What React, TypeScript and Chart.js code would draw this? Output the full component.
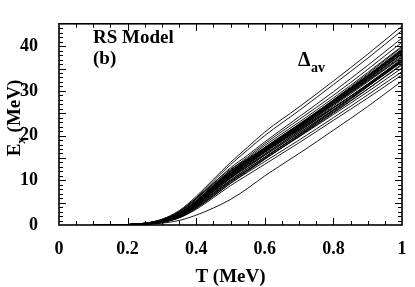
import React, { useEffect, useRef } from "react";
import { Chart, registerables } from "chart.js";

Chart.register(...registerables);

// Temperature grid (MeV)
const temps = [0.1, 0.15, 0.2, 0.25, 0.3, 0.35, 0.4, 0.45, 0.5, 0.55, 0.6, 0.7, 0.8, 0.9, 1.0];

// Excitation energy curves E_x (MeV), one per nucleus / sample
const curve01 = [0, 0, 0.1, 0.4, 1.3, 3.2, 6.4, 10.2, 14.0, 17.4, 20.8, 26.4, 32.2, 38.2, 44.5];
const curve02 = [0, 0, 0.1, 0.4, 1.2, 3.0, 6.1, 9.8, 13.5, 16.8, 20.0, 25.6, 31.4, 37.3, 43.5];
const curve03 = [0, 0, 0.1, 0.4, 1.1, 2.8, 5.8, 9.3, 12.8, 15.6, 18.6, 24.2, 29.8, 35.7, 41.8];
const curve04 = [0, 0, 0.1, 0.3, 1.0, 2.6, 5.5, 8.9, 12.3, 15.2, 18.2, 23.6, 29.0, 34.8, 40.9];
const curve05 = [0, 0, 0.1, 0.3, 1.0, 2.5, 5.3, 8.7, 12.0, 14.9, 17.8, 23.0, 28.4, 34.1, 40.0];
const curve06 = [0, 0, 0.1, 0.3, 0.9, 2.4, 5.1, 8.4, 11.7, 14.5, 17.3, 22.5, 27.9, 33.5, 39.4];
const curve07 = [0, 0, 0.1, 0.3, 0.9, 2.4, 5.0, 8.3, 11.5, 14.2, 16.9, 22.1, 27.5, 33.0, 38.8];
const curve08 = [0, 0, 0.1, 0.3, 0.9, 2.3, 4.9, 8.1, 11.2, 13.9, 16.6, 21.8, 27.1, 32.6, 38.3];
const curve09 = [0, 0, 0.1, 0.3, 0.8, 2.2, 4.8, 8.0, 11.0, 13.6, 16.2, 21.3, 26.6, 32.0, 37.5];
const curve10 = [0, 0, 0.1, 0.3, 0.8, 2.1, 4.6, 7.7, 10.7, 13.3, 15.9, 21.0, 26.2, 31.5, 37.0];
const curve11 = [0, 0, 0.1, 0.3, 0.8, 2.1, 4.5, 7.5, 10.5, 13.1, 15.6, 20.6, 25.7, 31.0, 36.4];
const curve12 = [0, 0, 0.1, 0.2, 0.7, 2.0, 4.3, 7.2, 10.1, 12.7, 15.2, 20.1, 25.2, 30.4, 35.8];
const curve13 = [0, 0, 0.0, 0.2, 0.7, 1.9, 4.1, 7.0, 9.8, 12.3, 14.8, 19.7, 24.7, 29.8, 35.1];
const curve14 = [0, 0, 0.0, 0.2, 0.6, 1.7, 3.8, 6.5, 9.3, 11.8, 14.2, 19.0, 24.0, 29.1, 34.3];
const curve15 = [0, 0, 0.0, 0.2, 0.6, 1.6, 3.5, 6.1, 8.8, 11.2, 13.6, 18.4, 23.4, 28.4, 33.6];
const curve16 = [0, 0, 0.0, 0.1, 0.4, 1.0, 2.2, 3.8, 5.7, 8.2, 11.0, 16.0, 21.2, 26.5, 32.2];
const curve17 = [0, 0, 0.1, 0.4, 1.2, 3.0, 6.0, 9.4, 12.5, 14.8, 17.2, 22.0, 27.0, 32.2, 37.6];
const curve18 = [0, 0, 0.1, 0.4, 1.1, 2.9, 5.8, 9.1, 12.1, 14.4, 16.7, 21.4, 26.3, 31.4, 36.7];
const curve19 = [0, 0, 0.1, 0.3, 1.0, 2.6, 5.4, 8.6, 11.6, 14.0, 16.4, 21.2, 26.2, 31.4, 36.9];
const curve20 = [0, 0, 0.1, 0.3, 0.9, 2.3, 4.8, 7.9, 11.1, 13.9, 16.8, 22.3, 28.0, 33.8, 39.8];
const curve21 = [0, 0, 0.1, 0.3, 0.9, 2.4, 5.1, 8.4, 11.6, 14.3, 17.0, 22.2, 27.6, 33.2, 39.0];
const curve22 = [0, 0, 0.1, 0.3, 0.9, 2.3, 5.0, 8.2, 11.3, 13.9, 16.5, 21.6, 26.9, 32.3, 37.9];
const curve23 = [0, 0, 0.1, 0.3, 0.8, 2.2, 4.7, 7.8, 10.9, 13.6, 16.3, 21.5, 26.9, 32.5, 38.2];
const curve24 = [0, 0, 0.1, 0.3, 0.8, 2.1, 4.5, 7.6, 10.7, 13.5, 16.3, 21.7, 27.3, 33.0, 38.9];
const curve25 = [0, 0, 0.1, 0.2, 0.7, 2.0, 4.4, 7.4, 10.4, 13.0, 15.6, 20.6, 25.8, 31.2, 36.7];
const curve26 = [0, 0, 0.0, 0.2, 0.7, 1.9, 4.2, 7.1, 10.0, 12.6, 15.2, 20.3, 25.6, 31.0, 36.6];
const curve27 = [0, 0, 0.0, 0.2, 0.6, 1.8, 4.0, 6.8, 9.7, 12.3, 15.0, 20.2, 25.6, 31.2, 37.0];
const curve28 = [0, 0, 0.0, 0.2, 0.6, 1.6, 3.7, 6.4, 9.3, 12.0, 14.7, 19.9, 25.3, 30.9, 36.6];
const curve29 = [0, 0, 0.1, 0.3, 0.9, 2.5, 5.2, 8.5, 11.7, 14.4, 17.1, 22.4, 27.8, 33.4, 39.2];
const curve30 = [0, 0, 0.1, 0.3, 1.0, 2.6, 5.4, 8.8, 12.0, 14.7, 17.4, 22.6, 27.9, 33.3, 38.9];
const curve31 = [0, 0, 0.0, 0.2, 0.6, 1.7, 3.9, 6.7, 9.6, 12.2, 14.8, 19.8, 25.0, 30.4, 36.0];
const curve32 = [0, 0, 0.1, 0.3, 0.8, 2.2, 4.7, 7.9, 11.0, 13.8, 16.6, 22.0, 27.6, 33.3, 39.2];
const curve33 = [0, 0, 0.1, 0.3, 0.9, 2.4, 5.2, 8.6, 11.9, 14.6, 17.2, 22.3, 27.5, 32.8, 38.3];
const curve34 = [0, 0, 0.1, 0.3, 0.8, 2.2, 4.8, 8.0, 11.2, 14.0, 16.8, 22.1, 27.5, 33.0, 38.6];
const curve35 = [0, 0, 0.0, 0.2, 0.7, 2.0, 4.4, 7.5, 10.6, 13.2, 15.8, 20.9, 26.1, 31.5, 37.2];
const curve36 = [0, 0, 0.1, 0.3, 0.9, 2.4, 5.0, 8.2, 11.4, 14.1, 16.8, 21.9, 27.2, 32.7, 38.4];

const curves = [
  curve01, curve02, curve03, curve04, curve05, curve06, curve07, curve08, curve09,
  curve10, curve11, curve12, curve13, curve14, curve15, curve16, curve17, curve18,
  curve19, curve20, curve21, curve22, curve23, curve24, curve25, curve26, curve27,
  curve28, curve29, curve30, curve31, curve32, curve33, curve34, curve35, curve36,
];

const xTickLabels = ["0", "0.2", "0.4", "0.6", "0.8", "1"];
const yTickLabels = ["0", "5", "10", "15", "20", "25", "30", "35", "40", "45"];

const SERIF = "Liberation Serif";

const decorPlugin = {
  id: "decor",
  afterDatasetsDraw(chart: any) {
    const { ctx, chartArea } = chart;
    const { left, right, top, bottom } = chartArea;
    const xs = chart.scales.x;
    const ys = chart.scales.y;
    ctx.save();
    ctx.strokeStyle = "#000";
    ctx.lineWidth = 1;
    // x ticks (bottom + top), minor every 0.05, major every 0.2
    for (let i = 1; i < 20; i++) {
      const v = i * 0.05;
      const px = Math.round(xs.getPixelForValue(v)) + 0.5;
      const len = i % 4 === 0 ? 7 : 4;
      ctx.beginPath();
      ctx.moveTo(px, bottom);
      ctx.lineTo(px, bottom - len);
      ctx.moveTo(px, top);
      ctx.lineTo(px, top + len);
      ctx.stroke();
    }
    // y ticks (left + right), minor every 1, major every 5
    for (let i = 1; i < 45; i++) {
      const py = Math.round(ys.getPixelForValue(i)) + 0.5;
      const len = i % 5 === 0 ? 7 : 4;
      ctx.beginPath();
      ctx.moveTo(left, py);
      ctx.lineTo(left + len, py);
      ctx.moveTo(right, py);
      ctx.lineTo(right - len, py);
      ctx.stroke();
    }
    // frame
    ctx.lineWidth = 1.6;
    ctx.strokeRect(left, top, right - left, bottom - top);

    ctx.fillStyle = "#000";
    ctx.textBaseline = "alphabetic";
    ctx.textAlign = "left";
    // annotations
    ctx.font = `bold 19px ${SERIF}`;
    ctx.fillText("RS Model", 93, 42.5);
    ctx.fillText("(b)", 93, 64);
    ctx.font = `bold 20px ${SERIF}`;
    ctx.fillText("\u0394", 298, 65.5);
    const dw = ctx.measureText("\u0394").width;
    ctx.font = `bold 14px ${SERIF}`;
    ctx.fillText("av", 298 + dw + 0.5, 72);

    // x axis title
    ctx.font = `bold 19px ${SERIF}`;
    ctx.textAlign = "center";
    ctx.fillText("T (MeV)", (left + right) / 2, 282);

    // y axis title with subscript
    ctx.save();
    ctx.translate(20, 118);
    ctx.rotate(-Math.PI / 2);
    ctx.textAlign = "left";
    ctx.font = `bold 19px ${SERIF}`;
    const wE = ctx.measureText("E").width;
    const wRest = ctx.measureText(" (MeV)").width;
    ctx.font = `bold 13px ${SERIF}`;
    const wx = ctx.measureText("x").width;
    const total = wE + wx + wRest;
    let cx = -total / 2;
    ctx.font = `bold 19px ${SERIF}`;
    ctx.fillText("E", cx, 0);
    cx += wE;
    ctx.font = `bold 13px ${SERIF}`;
    ctx.fillText("x", cx, 5);
    cx += wx;
    ctx.font = `bold 19px ${SERIF}`;
    ctx.fillText(" (MeV)", cx, 0);
    ctx.restore();

    ctx.restore();
  },
};

export default function App() {
  const canvasRef = useRef<HTMLCanvasElement | null>(null);

  useEffect(() => {
    document.body.style.margin = "0";
    const canvas = canvasRef.current;
    if (!canvas) return;
    const datasets = curves.map((c) => ({
      data: temps.map((t, i) => ({ x: t, y: c[i] })),
      borderColor: "rgba(0,0,0,0.9)",
      borderWidth: 1,
      pointRadius: 0,
      fill: false,
      cubicInterpolationMode: "monotone" as const,
    }));
    const chart = new Chart(canvas, {
      type: "line",
      data: { datasets },
      options: {
        animation: false,
        responsive: false,
        devicePixelRatio: 1,
        layout: { padding: { top: 13, right: 13, left: 0, bottom: 0 } },
        plugins: { legend: { display: false }, tooltip: { enabled: false } },
        scales: {
          x: {
            type: "linear",
            min: 0,
            max: 1,
            grid: { display: false },
            border: { display: false },
            afterFit: (scale: any) => {
              scale.height = 62;
            },
            ticks: {
              stepSize: 0.2,
              padding: 6,
              color: "#000",
              font: { family: SERIF, size: 18, weight: "bold" },
              maxRotation: 0,
              callback: (v: any) => xTickLabels[Math.round(Number(v) / 0.2)] ?? "",
            },
          },
          y: {
            type: "linear",
            min: 0,
            max: 45,
            grid: { display: false },
            border: { display: false },
            afterFit: (scale: any) => {
              scale.width = 59;
            },
            ticks: {
              stepSize: 5,
              padding: 13,
              color: "#000",
              font: { family: SERIF, size: 18, weight: "bold" },
              callback: (v: any) => yTickLabels[Math.round(Number(v) / 5)] ?? "",
            },
          },
        },
      },
      plugins: [decorPlugin],
    });
    return () => chart.destroy();
  }, []);

  return (
    <div style={{ width: 415, height: 287 }}>
      <canvas ref={canvasRef} width={415} height={287} />
    </div>
  );
}
